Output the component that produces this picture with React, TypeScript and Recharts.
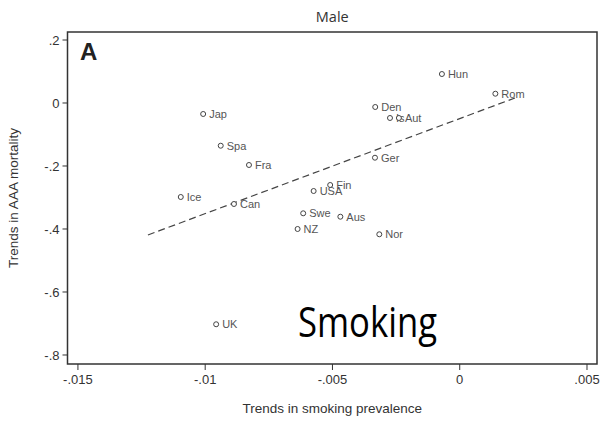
import React from 'react'
import { ScatterChart, Scatter, XAxis, YAxis, ReferenceArea, ReferenceLine } from 'recharts';

const countries = ['Hun', 'Rom', 'Jap', 'Den', 'Is', 'Aut', 'Spa', 'Fra', 'Ger', 'Fin', 'USA', 'Ice', 'Can', 'Swe', 'Aus', 'NZ', 'Nor', 'UK'];
const smokingTrend = [-0.0007, 0.0014, -0.01008, -0.00332, -0.00274, -0.00239, -0.00939, -0.00828, -0.00333, -0.00509, -0.00574, -0.01096, -0.00887, -0.00615, -0.00469, -0.00637, -0.00316, -0.00957];
const mortalityTrend = [0.092, 0.0295, -0.0349, -0.0127, -0.0476, -0.0476, -0.1356, -0.1968, -0.1737, -0.2603, -0.2794, -0.2984, -0.3206, -0.3502, -0.361, -0.4, -0.4168, -0.7025];
const fitLine = [{ x: -0.01225, y: -0.419 }, { x: 0.00217, y: 0.016 }];
const xTicks = [-0.015, -0.01, -0.005, 0, 0.005];
const yTicks = [0.2, 0, -0.2, -0.4, -0.6, -0.8];
const xDomain = [-0.01541, 0.005393];
const yDomain = [-0.8286, 0.2254];

const data = countries.map((name, i) => ({ name, x: smokingTrend[i], y: mortalityTrend[i] }));

const fmt = (v: number) => (v === 0 ? '0' : String(v).replace('0.', '.'));

const Dot = (props: any) => {
  const { cx, cy, payload } = props;
  return (
    <g>
      <circle cx={cx} cy={cy} r={2.5} fill="#fff" stroke="#444" strokeWidth={1} />
      <text x={cx + 6} y={cy} dominantBaseline="central" fontSize={11} fill="#555" fontFamily="Liberation Sans, Arial, sans-serif">
        {payload.name}
      </text>
    </g>
  );
};

const tickStyle = { fontSize: 13, fill: '#333', fontFamily: 'Liberation Sans, Arial, sans-serif' };

export default function App() {
  return (
    <div style={{ position: 'absolute', left: 0, top: 0, background: '#fff' }}>
      <ScatterChart width={608} height={421} margin={{ top: 32, right: 11, bottom: 7, left: 15.5 }}>
        <XAxis type="number" dataKey="x" domain={xDomain} ticks={xTicks} tickFormatter={fmt}
          allowDataOverflow height={50} tick={tickStyle} tickSize={6} tickMargin={5}
          stroke="#333" axisLine={false}
          label={{ value: 'Trends in smoking prevalence', position: 'insideBottom', offset: 1, style: { fontSize: 13.5, fill: '#333', fontFamily: 'Liberation Sans, Arial, sans-serif' } }} />
        <YAxis type="number" dataKey="y" domain={yDomain} ticks={yTicks} tickFormatter={fmt}
          allowDataOverflow width={52} tick={tickStyle} tickSize={5} tickMargin={3}
          stroke="#333" axisLine={false}
          label={{ value: 'Trends in AAA mortality', angle: -90, position: 'insideLeft', offset: -2.5, style: { textAnchor: 'middle', fontSize: 13.5, fill: '#333', fontFamily: 'Liberation Sans, Arial, sans-serif' } }} />
        <ReferenceArea x1={xDomain[0]} x2={xDomain[1]} y1={yDomain[0]} y2={yDomain[1]}
          fill="none" fillOpacity={0} stroke="#333" strokeWidth={1.5}
          label={{ value: 'Male', position: 'top', offset: 10, style: { fontSize: 14.5, fill: '#333', fontFamily: 'Open Sans, sans-serif' } }} />
        <ReferenceLine segment={fitLine} stroke="#444" strokeWidth={1.2} strokeDasharray="7 4" />
        <Scatter data={data} shape={Dot} isAnimationActive={false} />
        <text x={80} y={60} fontSize={24} fontWeight="bold" fill="#222" fontFamily="Liberation Sans, Arial, sans-serif">A</text>
        <text x={298} y={337} fontSize={42} fill="#000" fontFamily="Open Sans, sans-serif" textLength={139} lengthAdjust="spacingAndGlyphs">Smoking</text>
      </ScatterChart>
    </div>
  );
}
